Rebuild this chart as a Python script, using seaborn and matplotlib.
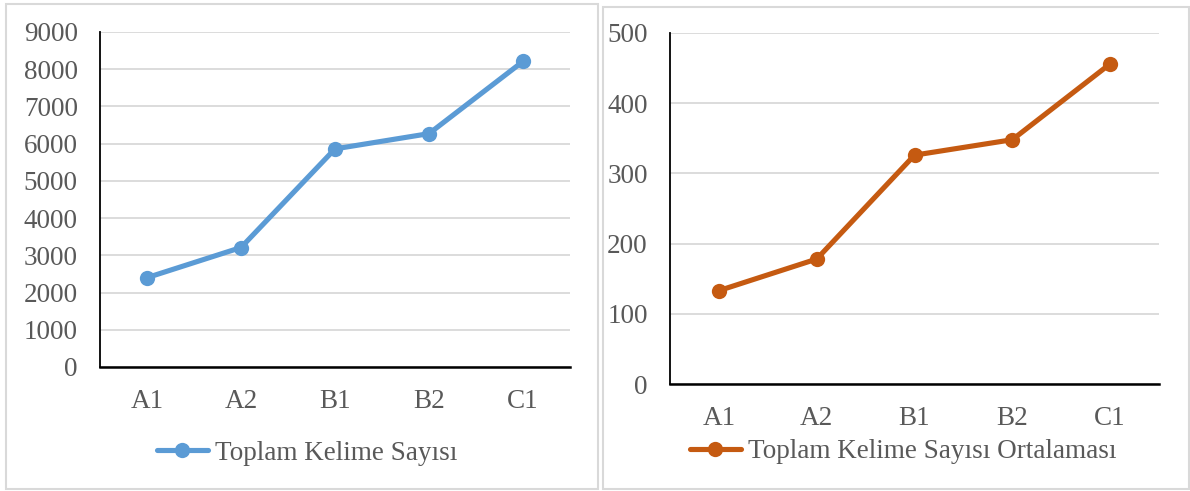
import matplotlib
matplotlib.use("Agg")
import matplotlib.pyplot as plt
import pandas as pd
import seaborn as sns
from matplotlib.patches import Rectangle

levels = ["A1", "A2", "B1", "B2", "C1"]
total_words = [2400, 3210, 5860, 6270, 8210]
mean_words = [133, 178, 326, 348, 456]

sns.set_style("white")
plt.rcParams['font.family'] = ['Liberation Serif', 'DejaVu Serif']
fs = 19.5
plt.rc('font', size=fs)

text_gray = '#595959'
grid_gray = '#D9D9D9'

W, H = 1190, 491
fig = plt.figure(figsize=(W / 100, H / 100), dpi=100)


def px_axes(x0, x1, y_top, y_bot):
    return fig.add_axes([x0 / W, 1 - y_bot / H, (x1 - x0) / W, (y_bot - y_top) / H])


# chart area frames
for x0, x1, y0, y1 in [(6, 598, 4, 489), (603, 1189, 7, 489)]:
    fig.patches.append(Rectangle((x0 / W, 1 - y1 / H), (x1 - x0) / W, (y1 - y0) / H,
                                 transform=fig.transFigure, fill=False,
                                 edgecolor=grid_gray, linewidth=1.5))

panels = [
    dict(box=(100, 570, 32, 367), values=total_words, color='#5B9BD5',
         label='Toplam Kelime Sayısı', ymax=9000, step=1000, leg=(307, 453)),
    dict(box=(670, 1159, 33, 384), values=mean_words, color='#C55A11',
         label='Toplam Kelime Sayısı Ortalaması', ymax=500, step=100, leg=(903, 452)),
]

for p in panels:
    ax = px_axes(*p['box'])
    df = pd.DataFrame({'level': levels, 'value': p['values']})
    sns.lineplot(data=df, x='level', y='value', ax=ax, color=p['color'],
                 linewidth=3.7, marker='o', markersize=11, markeredgewidth=0,
                 label=p['label'], sort=False)
    ax.set_xlim(-0.5, len(levels) - 0.5)
    ax.set_ylim(0, p['ymax'])
    ax.set_yticks(range(0, p['ymax'] + 1, p['step']))
    ax.set_xlabel('')
    ax.set_ylabel('')
    ax.yaxis.grid(True, color=grid_gray, linewidth=1.3)
    ax.set_axisbelow(True)
    for s in ['top', 'right']:
        ax.spines[s].set_visible(False)
    ax.spines['left'].set_color('black')
    ax.spines['left'].set_linewidth(1.3)
    ax.spines['bottom'].set_color('black')
    ax.spines['bottom'].set_linewidth(1.8)
    ax.tick_params(axis='y', length=0, pad=16, colors=text_gray, labelsize=fs)
    ax.tick_params(axis='x', length=0, pad=16, colors=text_gray, labelsize=fs)
    lx, ly = p['leg']
    leg = ax.legend(loc='center', bbox_to_anchor=(lx / W, 1 - ly / H),
                    bbox_transform=fig.transFigure, frameon=False,
                    handlelength=1.9, handletextpad=0.25, fontsize=fs)
    for t in leg.get_texts():
        t.set_color(text_gray)

fig.savefig('out.png', dpi=100)
